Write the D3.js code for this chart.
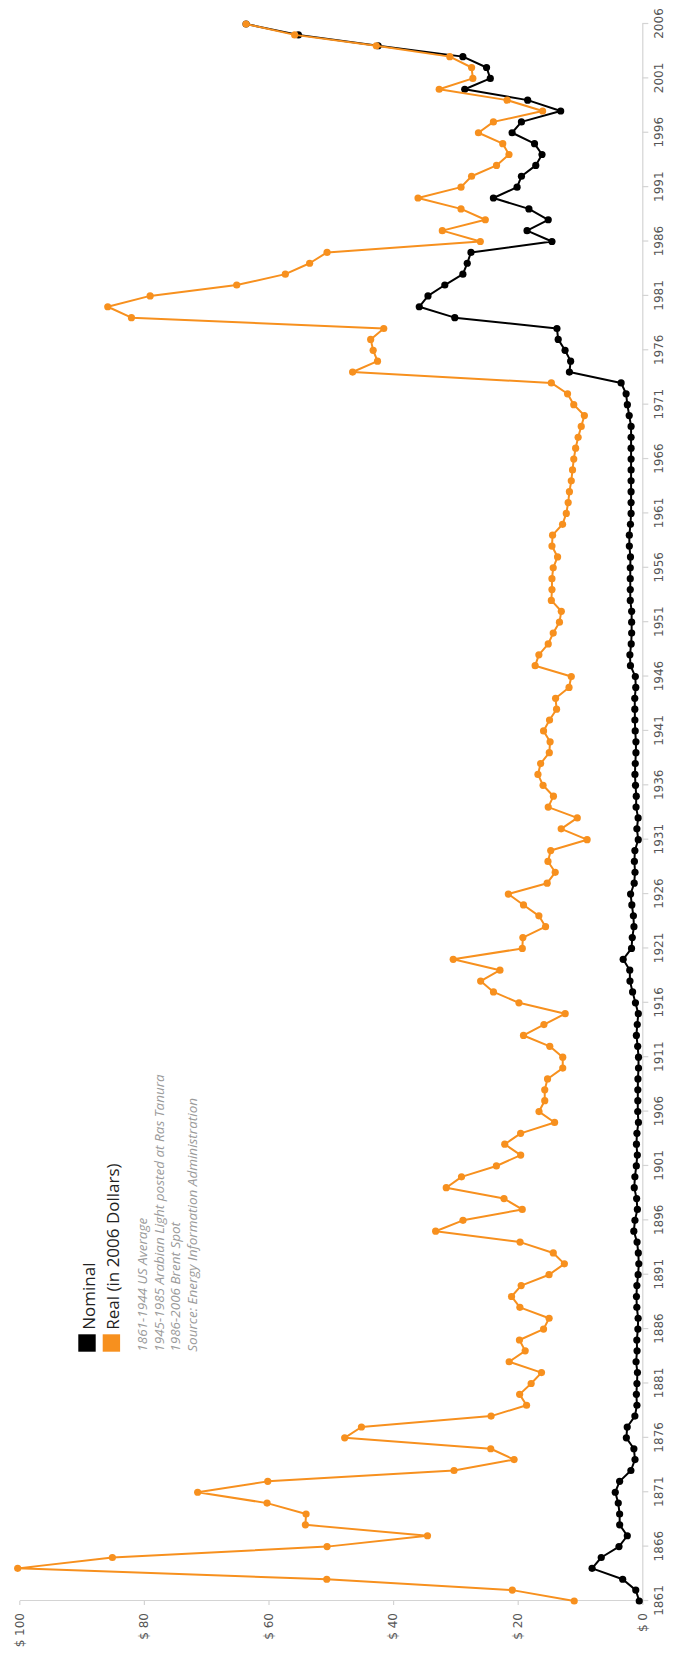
<!DOCTYPE html>
<html>
<head>
<meta charset="utf-8">
<script src="https://cdn.jsdelivr.net/npm/d3@7"></script>
<style>
  html, body { margin: 0; padding: 0; background: #fff; }
  svg { display: block; }
</style>
</head>
<body>
<div id="chart"></div>
<script>
// ---- DATA ----
const firstYear = 1861;
const lastYear = 2006;
const years = d3.range(firstYear, lastYear + 1);

const nominal = [
  0.49, 1.05, 3.15, 8.06, 6.59, 3.74, 2.41, 3.63, 3.64, 3.86,   // 1861-1870
  4.34, 3.64, 1.83, 1.17, 1.35, 2.56, 2.42, 1.19, 0.86, 0.95,   // 1871-1880
  0.86, 0.78, 1.00, 0.84, 0.88, 0.71, 0.67, 0.88, 0.94, 0.87,   // 1881-1890
  0.67, 0.56, 0.64, 0.84, 1.36, 1.18, 0.79, 0.91, 1.29, 1.19,   // 1891-1900
  0.96, 0.80, 0.94, 0.86, 0.62, 0.73, 0.72, 0.72, 0.70, 0.61,   // 1901-1910
  0.61, 0.74, 0.95, 0.81, 0.64, 1.10, 1.56, 1.98, 2.01, 3.07,   // 1911-1920
  1.73, 1.61, 1.34, 1.43, 1.68, 1.88, 1.30, 1.17, 1.27, 1.19,   // 1921-1930
  0.65, 0.87, 0.67, 1.00, 0.97, 1.09, 1.18, 1.13, 1.02, 1.02,   // 1931-1940
  1.14, 1.19, 1.20, 1.21, 1.05, 1.12, 1.90, 1.99, 1.78, 1.71,   // 1941-1950
  1.71, 1.71, 1.93, 1.93, 1.93, 1.93, 1.90, 2.08, 2.08, 1.90,   // 1951-1960
  1.80, 1.80, 1.80, 1.80, 1.80, 1.80, 1.80, 1.80, 1.80, 2.1,    // 1961-1970
  2.4, 2.6, 3.4, 11.7, 11.5, 12.4, 13.5, 13.7, 30.1, 35.8,      // 1971-1980
  34.4, 31.7, 28.8, 28.1, 27.5, 14.5, 18.5, 15.1, 18.2, 23.9,   // 1981-1990
  20.1, 19.4, 17.1, 16.1, 17.3, 20.9, 19.4, 13.1, 18.4, 28.5,   // 1991-2000
  24.4, 25.0, 28.8, 42.4, 55.2, 63.6                            // 2001-2006
];

const real = [
  10.93, 20.87, 50.65, 100.26, 85.06, 50.60, 34.48, 54.08, 53.97, 60.23, // 1861-1870
  71.37, 60.12, 30.22, 20.58, 24.33, 47.77, 45.08, 24.27, 18.58, 19.69,  // 1871-1880
  17.84, 16.18, 21.37, 18.80, 19.72, 15.85, 14.96, 19.65, 20.99, 19.44,  // 1881-1890
  14.97, 12.51, 14.29, 19.62, 33.17, 28.78, 19.27, 22.20, 31.47, 29.02,  // 1891-1900
  23.42, 19.52, 22.08, 19.53, 14.08, 16.58, 15.66, 15.66, 15.21, 12.77,  // 1901-1910
  12.77, 14.85, 19.07, 15.79, 12.38, 19.80, 23.89, 25.95, 22.85, 30.35,  // 1911-1920
  19.26, 19.17, 15.53, 16.60, 19.07, 21.50, 15.27, 13.98, 15.14, 14.70,  // 1921-1930
  8.86, 13.02, 10.44, 15.10, 14.26, 15.93, 16.75, 16.32, 14.93, 14.80,   // 1931-1940
  15.85, 14.89, 13.76, 13.92, 11.76, 11.4, 17.2, 16.6, 15.1, 14.3,       // 1941-1950
  13.3, 13.0, 14.6, 14.5, 14.5, 14.3, 13.6, 14.5, 14.4, 12.8,            // 1951-1960
  12.2, 11.9, 11.7, 11.4, 11.2, 11.0, 10.7, 10.3, 9.8, 9.3,              // 1961-1970
  11.0, 12.0, 14.6, 46.5, 42.5, 43.2, 43.6, 41.5, 82.0, 85.8,            // 1971-1980
  79.0, 65.1, 57.3, 53.4, 50.6, 26.0, 32.1, 25.2, 29.1, 36.0,            // 1981-1990
  29.1, 27.4, 23.4, 21.4, 22.4, 26.3, 23.9, 16.0, 21.7, 32.6,            // 1991-2000
  27.2, 27.4, 30.9, 42.7, 55.8, 63.6                                     // 2001-2006
];

const yearTicks = d3.range(firstYear, lastYear + 1, 5);
const valueTicks = [0, 20, 40, 60, 80, 100];

const seriesNames = ["Nominal", "Real (in 2006 Dollars)"];
const seriesColors = ["#000000", "#f7901e"];
const notes = [
  "1861-1944 US Average",
  "1945-1985 Arabian Light posted at Ras Tanura",
  "1986-2006 Brent Spot",
  "Source: Energy Information Administration"
];

// ---- LAYOUT (unrotated frame: width = page height, height = page width) ----
const pageW = 673, pageH = 1656;

const svg = d3.select("#chart").append("svg")
  .attr("width", pageW).attr("height", pageH);

const g = svg.append("g")
  .attr("transform", `translate(0,${pageH}) rotate(-90)`);

const x = d3.scaleLinear().domain([firstYear, lastYear]).range([55, 1632]);
const y = d3.scaleLinear().domain([0, 100]).range([642.3, 19.3]);

// axes
const xAxis = g.append("g")
  .attr("transform", `translate(0,${y(0)})`)
  .call(d3.axisBottom(x).tickValues(yearTicks).tickFormat(d3.format("d"))
    .tickSize(6).tickSizeOuter(0).tickPadding(6));

const yAxis = g.append("g")
  .attr("transform", `translate(${x(firstYear)},0)`)
  .call(d3.axisLeft(y).tickValues(valueTicks).tickFormat(d => "$ " + d)
    .tickSize(4).tickSizeOuter(0).tickPadding(8));

[xAxis, yAxis].forEach(a => {
  a.select(".domain").attr("stroke", "#d4d4d4").attr("stroke-width", 1.2);
  a.selectAll(".tick line").attr("stroke", "#d4d4d4").attr("stroke-width", 1.2);
  a.selectAll(".tick text")
    .attr("fill", "#555")
    .style("font-family", "'DejaVu Sans', Verdana, sans-serif")
    .style("font-size", "12px");
});

// series
const data = [
  years.map((yr, i) => ({ year: yr, value: nominal[i] })),
  years.map((yr, i) => ({ year: yr, value: real[i] }))
];

const line = d3.line().x(d => x(d.year)).y(d => y(d.value));

data.forEach((series, si) => {
  g.append("path")
    .datum(series)
    .attr("fill", "none")
    .attr("stroke", seriesColors[si])
    .attr("stroke-width", 2)
    .attr("stroke-linejoin", "round")
    .attr("d", line);
  g.append("g").selectAll("circle")
    .data(series)
    .join("circle")
    .attr("cx", d => x(d.year))
    .attr("cy", d => y(d.value))
    .attr("r", 3.6)
    .attr("fill", seriesColors[si]);
});

// legend
const legend = g.append("g");
const legendU = 304.3;
const legendRows = [78.3, 102.7];
seriesNames.forEach((name, i) => {
  legend.append("rect")
    .attr("x", legendU).attr("y", legendRows[i])
    .attr("width", 17.4).attr("height", 17.4)
    .attr("fill", seriesColors[i]);
  legend.append("text")
    .attr("x", legendU + 22).attr("y", legendRows[i] + 16.5)
    .attr("fill", "#222")
    .style("font-family", "'Open Sans', sans-serif")
    .style("font-size", "17px")
    .text(name);
});

notes.forEach((t, i) => {
  legend.append("text")
    .attr("x", legendU).attr("y", 147 + i * 16.5)
    .attr("fill", "#9a9a9a")
    .style("font-family", "'Open Sans', sans-serif")
    .style("font-style", "italic")
    .style("font-size", "13.5px")
    .text(t);
});
</script>
</body>
</html>
